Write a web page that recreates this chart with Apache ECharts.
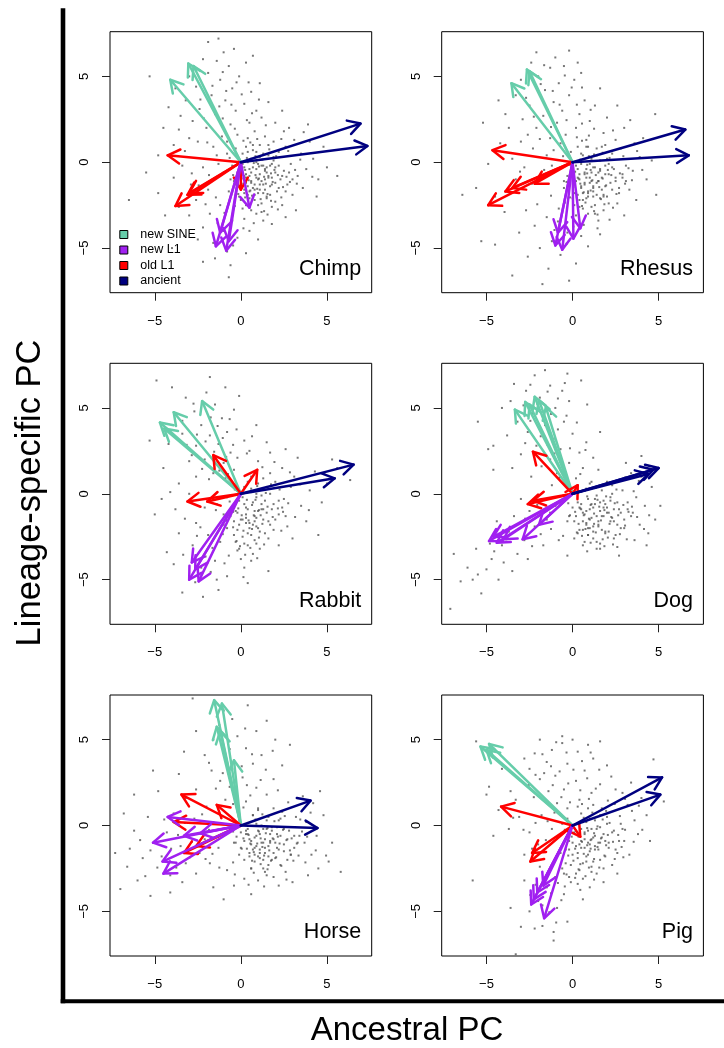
<!DOCTYPE html>
<html><head><meta charset="utf-8">
<script src="https://cdn.jsdelivr.net/npm/echarts@6/dist/echarts.min.js"></script>
<style>html,body{margin:0;padding:0;background:#fff}#c{width:724px;height:1048px}</style>
</head><body><div id="c"></div>
<script>
// ---------- data ----------
const panelNames = ['Chimp', 'Rhesus', 'Rabbit', 'Dog', 'Horse', 'Pig'];
const categories = ['new SINE', 'new L1', 'old L1', 'ancient'];
const tickValues = [-5, 0, 5];
const xAxisTitle = 'Ancestral PC';
const yAxisTitle = 'Lineage-specific PC';

// arrow tips (ancestral PC, lineage-specific PC); every arrow starts at (0,0)
const chimpSine = [[-4.1, 4.8], [-3.05, 5.75], [-2.75, 5.6]];
const chimpNewL1 = [[-1.45, -4.9], [-0.85, -5.15], [-1.2, -4.1], [-0.7, -4.6], [0.5, -2.65]];
const chimpOldL1 = [[-4.25, 0.4], [-3.8, -2.55], [-3.1, -1.9], [-3.0, -1.8], [0.0, -1.6]];
const chimpAncient = [[6.95, 2.25], [7.35, 0.95]];

const rhesusSine = [[-3.55, 4.6], [-2.65, 5.4], [-2.5, 5.3]];
const rhesusNewL1 = [[-1.0, -4.85], [-0.6, -5.1], [-0.85, -4.1], [0.05, -4.45], [0.45, -3.85]];
const rhesusOldL1 = [[-4.65, 0.7], [-4.9, -2.5], [-3.9, -1.7], [-3.5, -1.5], [-2.2, -1.25]];
const rhesusAncient = [[6.55, 1.9], [6.75, 0.4]];

const rabbitSine = [[-4.7, 4.15], [-4.45, 3.8], [-3.9, 4.75], [-2.25, 5.4]];
const rabbitNewL1 = [[-3.0, -5.0], [-2.85, -4.0], [-2.45, -5.1], [-2.65, -4.4]];
const rabbitOldL1 = [[-3.1, -0.45], [-1.95, -0.45], [-1.6, 2.25], [0.95, 1.4]];
const rabbitAncient = [[6.55, 1.7], [5.45, 0.9]];

const dogSine = [[-3.35, 4.9], [-2.75, 5.35], [-2.2, 5.65], [-1.95, 5.45], [-1.55, 5.05], [-2.5, 5.2]];
const dogNewL1 = [[-4.85, -2.75], [-4.4, -2.85], [-4.0, -2.65], [-2.9, -2.65], [-1.95, -1.8], [-4.6, -2.5]];
const dogOldL1 = [[-2.3, 2.45], [-2.6, -0.6], [-2.3, -0.4], [0.3, 0.5]];
const dogAncient = [[5.0, 1.5], [4.7, 1.4], [4.4, 1.15]];

const horseSine = [[-1.55, 7.3], [-1.1, 7.1], [-1.4, 5.75], [-1.2, 5.5], [-0.4, 3.8]];
const horseNewL1 = [[-4.25, 0.5], [-5.1, -1.0], [-4.5, -2.8], [-4.55, -2.1], [-2.35, -0.45], [-3.3, -0.6]];
const horseOldL1 = [[-3.45, 1.8], [-1.4, 1.2], [-3.9, 0.2], [-3.3, -1.6], [-2.6, -1.2]];
const horseAncient = [[4.05, 1.45], [4.45, -0.15]];

const pigSine = [[-5.35, 4.6], [-4.85, 4.75], [-5.0, 4.4]];
const pigNewL1 = [[-2.4, -4.6], [-1.65, -5.4], [-2.05, -3.9], [-2.25, -4.3], [-1.7, -3.5]];
const pigOldL1 = [[-4.15, 1.1], [-2.45, -2.1], [-2.35, -1.6], [0.45, -0.65]];
const pigAncient = [[5.2, 2.8], [5.1, 1.8]];

// background point clouds, flat x,y lists
const chimpPts = [
0.2,-0.3,0.5,-0.8,0.9,-0.4,1.2,-1.1,0.7,-1.5,1.5,-0.6,0.3,-1.2,1.8,-0.9,0.6,0.2,1.1,0.3,-0.2,-0.6,0.4,-1.9,1.4,-1.6,2.0,-0.3,0.8,-2.2,1.7,-1.4,0.1,0.5,0.9,-0.9,1.3,-0.2,0.5,-0.4,2.3,-1.0,1.0,-1.8,-0.4,-1.1,0.2,-1.6,1.6,0.4,2.1,-1.7,0.7,0.7,1.9,0.1,0.3,0.9,-0.1,0.2,1.2,-2.4,2.5,-0.5,0.6,-2.8,1.5,-2.1,-0.5,-0.2,0.0,-2.2,2.7,-1.3,1.1,1.0,0.4,1.4,-0.3,0.8,2.2,0.6,1.8,-2.6,0.9,-3.0,-0.7,-1.7,2.9,-0.1,1.4,1.5,0.2,-3.3,3.0,-1.9,-0.8,0.5,0.8,1.8,1.3,-3.4,2.4,-2.5,-0.2,1.6,3.3,-0.8,0.5,2.3,1.9,1.2,-1.0,-0.6,0.1,-2.7,2.6,0.9,1.6,-0.9,0.6,-1.1,1.0,-0.1,0.3,-0.7,1.4,-0.4,0.8,-1.3,1.7,-0.2,0.4,0.0,1.1,-0.7,2.0,-1.2,0.9,0.6,-0.1,-1.4,1.3,-1.3,
-0.6,2.2,-1.1,1.5,-0.3,3.0,-1.5,2.8,-0.9,3.6,0.2,3.4,-2.0,2.0,-1.7,3.9,-0.5,4.3,-2.4,3.1,-1.2,4.8,0.6,4.1,-2.8,2.4,-0.1,5.0,-1.9,5.2,-3.2,3.6,-1.4,5.9,0.9,3.0,-2.6,4.4,-0.7,5.6,1.2,2.6,-3.5,2.7,0.3,5.8,-2.2,6.0,-1.0,6.4,-3.0,5.0,1.6,3.5,2.0,2.3,-0.4,6.6,-1.9,7.0,0.7,6.2,2.4,3.0,-3.8,4.3,-1.3,7.2,1.1,4.6,-4.2,3.2,-2.5,1.2,-1.6,0.9,-3.0,1.4,-3.9,1.0,-2.2,-0.3,-3.4,-0.2,-1.3,-0.1,-4.5,2.0,-5.3,5.0,-4.8,0.4,
3.5,0.5,3.8,-0.4,4.2,0.2,3.1,1.3,4.5,-1.0,3.6,-1.5,2.8,2.0,4.0,1.2,5.0,-0.3,5.6,-0.8,3.2,-2.8,4.4,-2.0,2.5,1.8,4.8,0.9,3.9,2.2,
-1.2,-2.5,-0.5,-3.4,-1.8,-3.0,-2.6,-2.2,-1.0,-4.0,-2.2,-3.8,-3.0,-3.1,-0.2,-4.4,-1.6,-4.7,-3.6,-2.6,-2.5,-4.5,-0.8,-5.2,-1.5,-5.6,-3.3,-4.3,-4.4,-3.1,0.5,-4.0,1.0,-4.5,-0.6,-6.0,-0.7,-6.7,-2.2,-5.8,1.8,-3.6,2.6,-3.2,0.3,-5.3,-4.0,-5.0,-6.5,-2.2,-4.8,-1.8,-3.9,-0.9,-5.5,-0.6,-2.9,-1.3,-1.9,-1.6,
0.15,-0.95,0.55,-1.65,1.05,-0.25,1.35,-0.85,0.75,-0.05,1.85,-1.15,0.25,-0.45,1.55,-1.85,0.95,-1.55,2.15,-0.75,0.45,-2.45,1.25,0.15,0.05,-1.25,1.65,0.75,2.45,-1.45,0.85,0.35,1.95,-0.45,0.35,0.25,1.15,-2.15,-0.25,-0.15,2.65,-0.85,0.65,-1.95,1.45,-1.25,-0.45,-0.75,0.95,1.35,2.05,0.35,0.25,-2.05,1.75,-2.25,2.85,-1.15,0.55,1.15,-0.65,0.25,1.35,-2.85,3.15,-0.45,0.15,1.25,-0.15,-1.85,2.35,-2.05,1.05,-0.95,0.45,-1.05,1.75,-0.65,0.85,-0.75,
-0.8,1.2,-1.4,0.4,-0.35,1.95,0.35,2.45,-1.05,2.55,-0.55,3.35,0.65,2.85,-1.95,1.15,-1.25,3.25,0.05,3.95,-2.15,2.55,-0.85,4.15,1.45,2.15,-1.65,4.45,0.45,4.65,-2.35,3.65,2.35,1.35,-0.25,4.65,-1.05,5.25,1.05,3.65,2.75,0.65,3.25,-1.25,3.45,0.15,-1.85,-0.75,-2.45,-1.35,-1.45,-2.05,-0.95,-2.95,-0.35,-2.55,0.15,-3.85,0.75,-3.55,-2.05,-2.45,-1.35,-3.55,-0.45,-4.85,-2.85,-0.65,-3.25,0.65,1.55,-3.05,2.15,-2.75,3.65,1.75,4.15,-0.85,-2.75,5.45,-3.6,1.9,
0.1,-0.1,0.6,-0.6,1.0,-1.0,1.4,-0.5,0.4,-1.4,1.8,-1.3,0.8,-1.9,1.2,-0.2,0.3,-0.9,1.6,-0.8,2.0,-0.6,0.7,-0.3,1.1,-1.6,0.2,-1.8,1.5,-2.0,2.2,-1.5,0.5,-2.1,0.9,0.0,1.3,0.5,0.0,-0.5,2.4,-0.8,1.7,-1.9,0.6,-1.2,1.0,-2.5,-0.3,-1.3,2.6,-1.7,1.9,0.3,0.4,0.6,-0.1,-2.0,1.2,-2.9,2.8,-0.6,0.7,1.0,1.6,1.0,-0.6,-1.0,2.0,-2.3,0.3,-2.5,3.0,-1.0,1.4,-1.0,0.5,-1.7,1.1,-1.3,1.8,-0.1,0.8,-1.6,1.5,-0.3,0.2,-0.8,2.2,-0.2,1.3,-1.8
];
const rhesusPts = [
0.3,-0.4,0.8,-0.9,1.2,-0.3,0.5,-1.4,1.5,-1.1,0.9,-1.8,1.9,-0.7,0.2,-1.1,1.1,0.2,0.6,0.4,1.7,-1.6,2.2,-1.2,0.4,-2.2,1.3,-2.5,0.0,-0.2,1.0,-1.2,2.4,-0.4,0.7,-0.6,1.6,0.1,2.0,-2.0,-0.3,-0.8,0.9,-3.0,1.8,-2.8,0.1,-1.8,2.7,-1.5,1.4,0.8,0.3,0.9,2.9,-0.9,0.6,-2.7,1.2,-1.5,-0.1,0.6,2.3,0.5,1.5,-3.4,0.2,-3.1,2.6,-2.4,-0.5,-1.5,0.8,1.3,1.9,1.0,3.1,-0.2,0.5,-0.1,1.1,-0.6,1.6,-0.5,0.8,-2.1,1.4,-1.2,2.1,-0.1,0.4,-0.7,1.0,-0.9,0.7,-1.2,1.8,-1.9,1.2,-2.0,0.1,-2.5,2.5,-1.1,3.3,-1.6,0.9,0.9,-0.6,-0.3,
-0.4,1.6,-0.9,2.3,0.2,2.0,-1.3,1.4,-0.6,3.0,-1.7,2.7,0.4,2.8,-1.1,3.5,-2.1,2.0,-0.2,3.9,-1.6,4.2,-2.5,3.3,0.7,3.6,-0.8,4.6,-2.0,5.0,1.0,2.4,-2.9,2.5,-1.3,5.5,0.1,4.8,-2.4,5.8,-0.5,5.6,1.3,3.3,-3.3,3.9,-2.1,6.4,0.5,5.2,-1.0,6.1,1.6,4.3,-3.0,4.8,2.0,2.6,-3.7,2.0,2.6,3.3,1.8,1.7,3.0,2.0,4.8,2.8,3.6,1.1,2.5,1.3,-0.2,6.5,0.3,5.8,
-1.5,0.4,-2.3,0.8,-2.8,-0.3,-1.9,-0.9,-3.5,0.2,-4.2,1.1,-3.3,-1.0,-4.9,-0.1,-5.6,-1.5,-6.4,-1.9,-4.5,-2.0,-3.9,2.8,-1.2,-0.2,-2.6,1.6,-5.2,2.3,
3.5,-0.5,3.9,0.3,4.3,-1.0,3.7,-2.2,4.86,-1.9,4.1,1.4,3.0,-3.1,2.8,0.8,4.6,0.1,
-0.8,-2.7,-1.5,-3.2,-0.3,-4.1,-1.2,-4.6,-2.2,-3.7,0.5,-4.3,-0.7,-5.4,-1.9,-5.0,-2.7,-2.8,0.2,-5.9,-1.4,-6.2,-3.5,-6.6,-1.75,-7.1,-4.5,-4.8,-5.3,-4.6,-3.1,-4.1,0.9,-4.9,1.6,-4.2,-0.2,-6.9,-2.6,-5.5,
0.35,-0.95,0.65,-1.75,1.05,-0.45,1.35,-0.75,0.85,-0.15,1.95,-1.35,0.15,-0.55,1.65,-2.15,1.05,-1.65,2.25,-0.75,0.55,-2.55,1.25,0.45,0.05,-1.45,1.75,0.55,2.55,-1.85,0.95,0.35,2.05,-0.45,0.45,0.15,1.25,-2.85,-0.15,-0.15,2.75,-0.65,0.75,-2.35,1.55,-1.45,-0.35,-1.15,0.95,1.55,2.15,0.25,0.25,-2.05,1.85,-2.45,3.05,-1.25,0.55,1.25,-0.55,0.35,1.45,-3.05,3.25,-0.35,0.25,1.45,-0.15,-2.05,2.35,-2.65,1.15,-1.05,0.45,-1.25,1.75,-0.95,0.85,-0.65,
-0.7,1.1,-1.1,0.7,-0.35,2.45,0.55,2.25,-1.25,2.05,-0.75,3.35,0.25,3.35,-1.9,1.35,-1.45,3.05,-0.05,4.35,-2.25,2.65,-1.15,4.15,1.25,1.95,-1.85,4.55,0.55,4.35,-2.7,3.75,2.35,1.85,-0.45,5.05,-1.65,5.65,1.05,3.05,2.95,0.35,3.45,-1.05,3.75,0.65,-1.65,-0.45,-2.35,-1.25,-1.25,-1.95,-0.85,-3.45,-0.45,-2.35,0.05,-3.75,0.65,-3.65,-2.05,-2.45,-1.05,-3.95,-0.35,-4.75,-3.05,-0.55,-3.0,1.2,1.45,-3.85,2.15,-3.35,3.35,2.45,4.05,-0.45,-3.95,-2.9,-4.3,3.6,
0.2,-0.2,0.7,-0.7,1.1,-1.1,1.5,-0.6,0.5,-1.5,1.9,-1.4,0.9,-2.0,1.3,-0.3,0.4,-1.0,1.7,-0.9,2.1,-0.7,0.8,-0.4,1.2,-1.7,0.3,-1.9,1.6,-2.1,2.3,-1.6,0.6,-2.2,1.0,-0.1,1.4,0.4,0.1,-0.6,2.5,-0.9,1.8,-2.0,0.7,-1.3,1.1,-2.6,-0.2,-1.4,2.7,-1.8,2.0,0.2,0.5,0.5,0.0,-2.1,1.3,-3.0,2.9,-0.7,0.8,0.9,1.7,0.9,-0.5,-1.1,2.1,-2.4,0.4,-2.6,3.1,-1.1,1.5,-1.1,0.6,-1.8,1.2,-1.4,1.9,-0.2,0.9,-1.7,1.6,-0.4,0.3,-0.9,2.3,-0.3,1.4,-1.9
];
const rabbitPts = [
-0.3,-0.6,0.3,-1.2,0.7,-0.5,-0.1,-1.8,0.9,-1.4,0.4,-2.3,1.3,-0.9,-0.6,-1.3,0.1,-0.2,1.0,-2.0,0.6,0.3,-0.4,-2.4,1.6,-1.6,0.2,-2.9,-0.8,-0.2,1.2,-0.1,-0.2,-3.3,0.8,-2.7,1.9,-0.6,-1.0,-1.8,0.5,-1.7,1.5,0.4,-0.5,0.5,2.2,-1.2,-1.2,-2.8,0.0,-3.8,1.1,-3.2,2.0,0.7,-0.9,0.9,2.5,-0.3,0.3,-0.8,-0.2,-1.1,0.8,-1.0,0.1,-1.5,1.4,-2.3,-0.7,-3.6,2.7,-1.9,0.6,1.0,-1.4,-0.6,1.7,1.2,-0.4,1.4,2.9,0.4,0.2,-4.3,-1.5,-3.9,0.9,0.0,
-1.0,1.8,-1.6,1.2,-0.6,2.4,-2.1,2.0,-1.3,2.9,-0.2,2.1,-2.6,2.8,-1.8,3.4,-0.8,3.6,-3.0,1.9,-2.3,4.0,-1.1,4.4,0.2,3.1,-3.4,3.5,-2.7,4.8,-1.5,5.2,-0.4,4.9,-3.8,4.6,0.5,2.5,-2.0,5.9,-4.2,2.9,-3.2,5.6,-0.9,6.2,-4.9,6.6,-1.8,6.8,-2.6,1.0,-4.5,1.5,-3.6,0.6,1.0,1.9,1.5,3.0,0.9,4.0,-4.0,6.2,-0.1,5.7,1.7,2.4,-5.3,3.1,
2.4,1.5,3.1,1.0,3.5,-0.7,4.0,0.2,3.3,2.1,4.3,1.3,5.0,0.6,5.6,1.5,6.35,0.8,4.5,-2.4,3.8,-1.6,2.6,2.6,4.7,-0.5,3.0,-2.6,2.2,-3.0,5.3,2.0,
-2.1,-0.8,-3.0,0.0,-2.6,-1.7,-3.8,-0.9,-4.6,-0.3,-1.9,-2.4,-2.8,-3.0,-3.6,-2.3,-4.3,-3.4,-2.3,-4.3,-3.0,-4.8,-1.4,-5.0,-3.4,-5.75,-2.2,-6.0,-0.8,-4.8,0.6,-3.9,1.6,-4.5,-5.0,-1.2,-1.3,-5.6,-3.9,-4.1,0.4,-5.2,
-0.15,-0.85,0.45,-1.55,0.85,-0.35,0.15,-2.15,1.15,-1.25,0.65,-2.05,1.55,-0.75,-0.45,-1.05,0.35,-0.35,1.25,-1.75,0.95,0.45,-0.25,-2.75,1.85,-1.35,0.55,-3.15,-0.65,-0.45,1.45,0.05,-0.05,-3.05,1.05,-2.55,2.15,-0.85,-0.85,-1.55,0.75,-1.25,1.75,0.55,-0.35,0.25,2.45,-1.05,-1.05,-2.35,0.25,-3.55,1.35,-2.95,2.25,0.25,-0.75,1.15,2.75,-0.55,0.05,-1.25,0.65,-0.65,1.05,-0.95,-0.45,-1.95,
-1.25,1.35,-1.85,0.85,-0.85,2.15,-1.55,2.45,-0.45,2.85,-2.25,1.45,-1.05,3.25,-2.05,3.05,-0.25,3.75,-2.85,2.25,-1.35,3.95,-2.55,3.45,0.35,2.35,-1.75,4.45,-0.65,4.35,-3.15,2.85,1.25,1.55,0.65,3.35,1.95,1.85,2.85,1.25,3.45,0.55,2.35,-2.15,3.15,-1.35,-1.45,-0.95,-2.35,-1.95,-1.65,-3.15,-2.05,-3.65,-0.95,-4.05,-2.55,-2.45,-3.25,-1.45,0.15,-4.85,-1.75,-4.55,-2.65,-5.15,-3.35,-3.55,0.95,-3.75,3.95,-0.95,4.85,1.15,-4.1,0.1,-3.4,4.25,-2.75,5.25,
-0.1,-0.4,0.4,-0.9,0.8,-1.3,1.2,-0.6,0.0,-1.5,1.5,-1.1,0.5,-2.0,0.9,-0.2,-0.4,-1.6,1.3,-1.5,1.8,-0.9,0.2,-0.6,0.7,-1.8,-0.2,-2.1,1.1,-2.2,2.0,-1.5,0.1,-2.5,0.6,0.1,1.0,0.6,-0.6,-0.9,2.2,-0.4,0.9,-2.9,0.3,-1.4,0.4,-3.0,-0.8,-2.0,1.6,-2.6,1.7,0.0,0.2,0.4,-0.3,-2.8,0.7,-3.5,2.4,-0.8,0.4,0.7,1.3,0.9,-1.0,-1.2,1.9,-2.1,-0.1,-3.2,2.6,-1.3,1.0,-1.0,0.3,-1.7,0.8,-1.6,1.4,-0.4,0.6,-2.4,1.2,-0.9,-0.3,-1.0,1.7,-1.8,0.9,-1.9
];
const dogPts = [
0.3,-0.5,0.8,-1.0,1.3,-0.6,0.6,-1.6,1.7,-1.3,1.0,-2.0,2.0,-0.8,0.2,-1.3,1.4,-0.1,2.4,-1.6,0.9,-0.3,1.9,-2.2,0.4,-2.1,2.7,-0.9,1.2,-2.6,2.2,-0.2,0.0,-0.8,3.0,-1.5,0.7,0.2,1.6,-2.9,2.5,-2.4,3.2,-0.5,1.1,-1.4,1.5,-1.8,0.5,-0.9,2.1,-1.1,1.8,-0.4,0.9,-2.4,2.8,-2.0,3.5,-1.1,-0.3,-1.6,0.1,-2.6,3.7,-0.2,2.3,0.5,1.0,0.6,1.4,-3.2,2.9,0.2,3.9,-1.8,0.6,-3.0,-0.5,-0.4,2.6,-3.1,1.2,-0.8,1.6,-1.0,0.8,-1.8,2.3,-1.4,
4.2,-0.7,4.6,0.4,4.0,1.0,5.1,-0.7,4.4,-2.3,3.4,1.2,4.0,2.2,3.6,-2.7,4.8,-1.5,3.1,1.8,2.7,-3.6,4.3,-3.0,
0.2,0.9,-0.4,0.6,-0.9,1.2,-0.2,1.8,0.6,1.5,-1.3,2.0,-0.7,2.6,0.4,2.4,-1.8,1.6,-1.1,3.2,-2.1,2.8,0.0,3.5,-1.6,4.0,-2.6,3.6,-0.5,4.2,0.8,3.0,-2.3,4.7,-3.0,2.3,-1.0,5.0,-3.2,4.2,-1.9,5.6,-0.2,5.4,-2.7,6.0,-3.6,5.4,-1.3,6.3,0.5,6.6,-2.2,6.9,-3.4,6.4,-4.1,5.0,-1.6,7.2,-0.6,6.0,-3.8,3.4,-4.6,2.8,1.2,2.1,1.6,3.6,0.85,5.2,-0.3,7.0,1.5,1.4,-2.4,1.0,-3.5,1.5,-1.2,0.5,-5.5,4.2,-4.9,2.6,-4.6,1.4,
-1.0,-0.7,-1.8,-0.3,-2.5,-1.0,-1.5,-1.5,-3.0,-0.3,-2.2,-1.9,-3.4,-1.3,-2.8,-2.7,-3.7,-2.2,-4.4,-1.6,-3.2,-3.5,-4.1,-3.0,-4.7,-3.8,-3.5,-4.5,-5.0,-4.4,-5.6,-3.2,-4.3,-5.0,-5.8,-5.0,-6.1,-4.3,-5.3,-5.8,-6.5,-5.1,-7.1,-6.7,-6.9,-3.5,-4.0,-4.0,-5.5,-4.7,-2.6,-3.8,-4.8,-2.9,-0.8,-2.7,-1.7,-3.0,-0.3,-3.6,
0.45,-0.85,0.95,-1.45,1.45,-0.35,0.75,-2.05,1.85,-0.95,1.25,-1.75,2.25,-1.35,0.35,-1.75,1.55,-0.75,2.65,-1.25,1.05,-0.65,2.05,-2.55,0.55,-2.45,2.95,-0.65,1.35,-2.25,2.45,-0.55,0.15,-1.05,3.25,-1.05,0.85,-0.15,1.75,-2.65,2.75,-2.35,3.45,-0.75,1.25,-1.15,1.65,-1.55,0.65,-1.25,2.15,-1.75,1.95,-0.15,1.05,-2.85,3.05,-1.85,3.75,-1.35,-0.15,-1.25,0.25,-2.25,3.55,0.15,2.55,0.25,1.35,0.35,1.85,-3.05,3.15,-2.65,0.85,-3.35,-0.25,-0.55,2.35,-2.95,
-0.55,1.55,-1.05,2.35,-0.15,2.65,-1.45,2.85,-0.85,3.75,-1.85,3.35,-0.35,4.55,-2.45,4.25,-1.25,4.65,-2.05,5.25,0.25,4.15,-2.85,5.15,-0.85,5.55,0.45,1.15,-0.75,0.95,0.75,2.55,-2.75,2.95,-1.45,5.95,-0.45,6.45,-2.45,6.35,
-1.3,-1.1,-2.05,-0.65,-2.75,-1.45,-1.85,-2.35,-3.15,-2.05,-2.35,-3.05,-3.85,-2.65,-4.55,-3.35,-1.25,-2.05,-0.55,-2.45,
4.45,-1.25,3.85,0.75,4.15,-2.05,3.05,0.95,
0.5,-0.6,1.0,-0.9,1.4,-1.3,1.8,-0.8,0.8,-1.7,2.2,-1.6,1.2,-2.2,1.6,-0.5,0.7,-1.2,2.0,-1.1,2.4,-0.9,1.1,-0.6,1.5,-1.9,0.6,-2.1,1.9,-2.3,2.6,-1.8,0.9,-2.4,1.3,-0.3,1.7,0.2,0.4,-0.8,2.8,-1.1,2.1,-2.2,1.0,-1.5,1.4,-2.8,0.1,-1.6,3.0,-2.0,2.3,0.0,0.8,0.3,0.3,-2.3,1.6,-3.2,3.2,-0.9,1.1,0.7,2.0,0.7,-0.2,-1.3,2.4,-2.6,0.7,-2.8,3.4,-1.3,1.8,-1.3,0.9,-2.0,1.5,-1.6,2.2,-0.4,1.2,-1.9,1.9,-0.6,0.6,-1.1,2.6,-0.5,1.7,-2.1
];
const horsePts = [
0.3,-0.3,0.8,-0.7,1.3,-0.2,0.6,-1.1,1.7,-0.9,1.1,-1.4,2.1,-0.5,0.2,-0.9,1.5,0.3,2.5,-1.1,0.9,0.1,1.9,-1.6,0.5,-1.6,2.8,-0.3,1.3,-2.0,2.3,0.4,0.0,-0.4,3.1,-1.3,0.7,0.6,1.6,-2.3,2.7,-2.0,3.4,-0.6,1.2,-1.0,1.6,-1.2,0.4,-0.5,2.0,-1.0,1.8,-0.1,1.0,-1.8,2.9,-1.7,3.7,-1.0,-0.4,-1.0,-0.1,-1.7,3.8,0.2,2.4,0.8,1.0,0.9,1.4,-2.7,3.2,0.5,4.1,-1.7,0.6,-2.5,-0.6,-0.2,2.6,-2.7,1.1,-0.5,1.4,-0.8,0.8,-1.3,2.2,-1.4,
4.4,-0.6,4.8,0.6,4.2,1.3,5.1,-2.1,5.8,-2.7,3.6,1.7,4.5,-2.5,3.9,-2.9,5.3,-1.0,3.0,-3.3,2.2,-3.5,4.6,2.0,
0.3,1.4,-0.3,1.9,0.9,2.2,-0.9,1.5,0.1,2.8,1.5,1.8,-1.2,2.6,-0.5,3.3,0.7,3.6,1.9,2.7,-1.7,3.2,-0.9,4.0,0.3,4.5,1.2,4.1,-2.1,4.1,2.4,3.5,-0.2,5.2,-1.6,5.0,0.9,5.5,2.85,4.7,1.5,6.1,-2.8,7.4,-0.5,6.2,-2.6,5.5,-3.3,4.3,2.0,5.0,-1.0,6.7,0.4,7.0,-3.6,3.0,-2.6,2.1,
-1.0,-0.5,-1.6,0.2,-2.1,-0.8,-1.3,-1.3,-2.7,0.4,-3.0,-0.6,-2.4,-1.6,-3.5,-1.2,-3.9,0.7,-4.3,-0.4,-3.2,-2.2,-4.6,-1.8,-4.1,-2.9,-5.0,-0.9,-5.4,0.5,-5.7,-1.9,-6.2,-0.3,-6.6,-2.4,-7.3,-1.6,-7.0,-3.7,-6.0,-3.2,-5.25,-4.1,-4.1,-3.9,-3.4,-3.3,-2.6,-2.8,-1.8,-2.2,-4.8,2.0,-6.2,1.8,-5.1,3.2,-3.2,1.6,-2.0,1.1,-0.8,-2.6,-1.6,-3.6,-6.8,0.7,
0.2,-3.1,-0.4,-3.5,1.0,-3.2,0.6,-4.0,-1.0,-4.3,1.9,-3.0,
0.45,-0.55,0.95,-1.05,1.45,-0.45,0.75,-1.55,1.85,-0.75,1.25,-1.25,2.25,-1.05,0.35,-1.35,1.55,-0.15,2.65,-0.85,1.05,-0.35,2.05,-1.85,0.65,-2.05,2.95,-0.75,1.35,-1.75,2.45,-0.25,0.15,-0.75,3.25,-1.05,0.85,0.35,1.75,-2.05,2.85,-1.45,3.55,-0.35,1.15,-0.75,1.65,-1.45,0.55,-1.05,2.15,-0.65,1.95,0.25,1.15,-2.25,3.05,-2.05,3.85,-0.65,-0.25,-0.65,0.05,-1.35,3.45,0.35,2.55,0.55,1.25,0.65,1.55,-2.55,3.35,-1.75,0.75,-2.75,-0.45,-0.35,2.35,-2.35,
0.15,1.05,-0.45,1.25,0.55,1.75,-0.65,2.25,0.35,2.35,1.15,2.65,-1.05,3.05,0.05,3.45,1.45,3.25,-1.45,2.15,0.65,4.15,-0.65,4.45,2.15,2.05,-1.85,3.65,0.25,5.65,-1.25,5.85,1.85,4.35,
-0.85,-0.15,-1.35,-0.65,-1.85,-0.25,-2.35,-1.15,-1.65,-1.65,-2.85,-0.95,-3.25,0.15,-2.05,-1.95,-3.65,-0.55,-2.95,-1.85,-4.05,-1.35,-3.75,-2.45,-4.85,-2.45,-5.25,-1.45,-4.45,0.35,-2.25,0.65,-1.15,0.45,-1.25,-2.45,-5.85,-0.85,-6.45,-1.35,-5.55,-2.95,-0.45,-2.15,
4.05,0.75,4.35,-1.45,4.95,-1.75,3.75,-2.15,2.75,1.35,0.45,-3.45,1.35,-3.55,-0.35,-2.85,2.65,-3.15,
0.4,-0.2,0.9,-0.6,1.3,-1.0,1.7,-0.5,0.7,-1.4,2.1,-1.3,1.1,-1.9,1.5,-0.2,0.6,-0.9,1.9,-0.8,2.3,-0.6,1.0,-0.3,1.4,-1.6,0.5,-1.8,1.8,-2.0,2.5,-1.5,0.8,-2.1,1.2,0.0,1.6,0.5,0.3,-0.5,2.7,-0.8,2.0,-1.9,0.9,-1.2,1.3,-2.5,0.0,-1.3,2.9,-1.7,2.2,0.3,0.7,0.6,0.2,-2.0,1.5,-2.9,3.1,-0.6,1.0,1.0,1.9,1.0,-0.3,-1.0,2.3,-2.3,0.6,-2.5,3.3,-1.0,1.7,-1.0,0.8,-1.7,1.4,-1.3,2.1,-0.1,1.1,-1.6,1.8,-0.3,0.5,-0.8,2.5,-0.2,1.6,-1.8
];
const pigPts = [
0.2,-0.3,0.7,-0.8,1.1,-0.2,0.5,-1.3,1.5,-1.0,0.9,-1.7,1.8,-0.5,0.0,-1.0,1.3,0.3,2.1,-1.3,0.6,0.2,1.6,-2.0,0.3,-1.9,2.4,-0.3,1.1,-2.4,2.0,0.5,-0.2,-0.5,2.6,-1.6,0.5,0.7,1.4,-2.8,2.3,-2.3,2.8,0.1,1.0,-1.1,1.3,-1.4,0.4,-0.6,1.9,-0.9,1.6,-0.1,0.8,-2.1,-0.4,-1.4,-0.1,-2.3,0.9,1.0,0.2,-2.8,3.0,-0.9,-0.6,0.1,1.7,1.0,0.7,-0.4,1.2,-0.7,
-0.3,1.0,0.4,1.5,-0.9,1.3,1.1,1.9,-0.5,2.1,0.2,2.6,-1.4,2.0,1.6,2.4,-1.0,2.9,0.7,3.2,-1.9,2.7,-0.3,3.6,1.2,3.9,-1.5,3.7,0.3,4.3,-2.5,3.3,-0.6,4.8,-2.2,4.2,0.9,4.7,-0.6,5.2,-1.2,4.4,2.0,3.5,-3.0,2.6,-2.8,3.9,2.5,2.1,-1.9,5.0,0.0,5.0,1.6,4.9,-3.6,2.0,-4.85,2.26,-5.6,4.9,-4.1,3.3,
3.2,1.2,3.6,0.3,4.0,1.6,3.4,2.5,4.7,3.85,4.3,0.6,5.3,1.4,3.8,-0.5,2.9,1.9,3.3,-1.7,4.5,-0.9,2.6,-2.8,
-1.2,-0.2,-1.8,0.6,-2.5,-0.4,-3.1,0.5,-3.7,-0.2,-4.3,0.9,-2.0,-1.1,-3.3,1.5,-4.6,-0.6,-2.8,-1.7,-5.0,1.8,-5.8,-3.2,
-0.6,-2.5,-1.0,-3.0,0.3,-3.4,-1.5,-3.6,-0.5,-4.0,-2.0,-4.4,-0.9,-4.8,0.6,-4.3,-1.6,-5.3,-2.5,-5.0,-0.3,-5.6,-1.1,-6.2,-2.2,-6.0,-3.3,-7.5,-1.1,-6.7,-2.8,-3.2,-3.6,-4.8,-1.9,-2.4,1.0,-3.6,1.8,-3.3,-0.2,-3.0,-3.0,-5.9,
0.35,-0.65,0.85,-1.15,1.25,-0.45,0.65,-1.65,1.65,-0.75,1.05,-1.35,1.95,-1.15,0.15,-1.35,1.45,-0.05,2.35,-0.95,0.85,-0.15,1.85,-1.75,0.45,-2.25,2.65,-0.55,1.25,-1.95,2.15,0.15,-0.05,-0.65,2.85,-1.25,0.65,0.45,1.55,-2.45,2.45,-1.95,3.05,-0.25,1.05,-0.85,1.45,-1.25,0.55,-0.95,2.05,-0.55,1.75,0.35,0.95,-2.45,-0.25,-1.75,0.05,-2.05,1.15,0.75,0.35,-2.55,2.75,0.55,-0.45,-0.25,1.95,0.85,
-0.15,1.35,0.55,1.25,-0.65,1.65,0.95,1.55,-0.25,2.45,0.45,2.05,-1.15,2.35,1.35,2.15,-0.75,3.15,0.85,2.75,-1.65,3.05,0.05,3.25,1.55,3.25,-1.25,3.45,0.55,3.75,-2.15,2.95,-0.35,4.25,-1.75,4.15,1.05,4.25,-0.95,4.85,2.25,2.85,-2.55,2.35,2.05,1.45,-1.05,0.75,-2.25,1.65,
3.05,1.55,3.45,0.85,3.85,1.15,2.45,1.25,3.55,-0.95,4.05,-0.25,2.95,-1.85,-1.45,0.25,-2.15,0.15,-2.85,-0.25,-1.55,-0.85,-3.45,0.45,-2.35,-1.35,
-0.35,-2.85,-0.85,-3.35,0.15,-3.05,-1.25,-3.95,-0.45,-3.55,-1.75,-4.65,-0.65,-4.35,0.45,-3.75,-1.35,-5.05,-2.15,-3.45,0.75,-2.95,-0.95,-5.65,-1.75,-5.85,-2.45,-4.05,1.25,-3.15,
0.1,-0.4,0.5,-0.9,0.9,-0.3,1.3,-1.2,0.3,-1.6,1.7,-0.7,0.6,-2.2,1.0,-1.5,-0.2,-0.9,1.4,-0.2,2.1,-1.0,0.8,0.2,0.0,-1.7,0.4,-2.6,1.2,-2.1,1.9,-1.8,-0.4,-2.2,0.7,-0.5,1.6,0.6,-0.3,0.4,2.3,-0.4,1.1,-2.7,0.2,-1.2,0.6,-3.1,-0.7,-1.6,2.5,-1.4,1.5,-1.4,0.9,-1.0,-0.5,-2.8,1.0,0.4,2.7,-0.9,0.3,1.1,1.2,1.2,-0.9,-0.7,1.8,-2.5,-0.1,-3.3,2.9,-0.2,1.1,-0.8,0.4,-1.1,0.8,-1.8,1.6,-1.0,0.5,-0.2,2.0,0.1,-0.2,-1.4,1.3,-0.6,0.7,-1.3
];

// ---------- presentation ----------
const colors = {'new SINE': '#66CDAA', 'new L1': '#A020F0', 'old L1': '#FF0000', 'ancient': '#000080'};
const drawOrder = ['new SINE', 'old L1', 'new L1', 'ancient'];
const FONT = '"Liberation Sans", Arial, Helvetica, sans-serif';
const COL_LEFT = [110, 441.7], ROW_TOP = [31.7, 363.3, 695], GW = 261.7, GH = 261;
const AX_MIN = -7.6, AX_MAX = 7.6;

const panels = [
  {pts: chimpPts, arrows: {'new SINE': chimpSine, 'new L1': chimpNewL1, 'old L1': chimpOldL1, 'ancient': chimpAncient}},
  {pts: rhesusPts, arrows: {'new SINE': rhesusSine, 'new L1': rhesusNewL1, 'old L1': rhesusOldL1, 'ancient': rhesusAncient}},
  {pts: rabbitPts, arrows: {'new SINE': rabbitSine, 'new L1': rabbitNewL1, 'old L1': rabbitOldL1, 'ancient': rabbitAncient}},
  {pts: dogPts, arrows: {'new SINE': dogSine, 'new L1': dogNewL1, 'old L1': dogOldL1, 'ancient': dogAncient}},
  {pts: horsePts, arrows: {'new SINE': horseSine, 'new L1': horseNewL1, 'old L1': horseOldL1, 'ancient': horseAncient}},
  {pts: pigPts, arrows: {'new SINE': pigSine, 'new L1': pigNewL1, 'old L1': pigOldL1, 'ancient': pigAncient}}
];

function toPairs(flat) { const out = []; for (let i = 0; i + 1 < flat.length; i += 2) out.push([flat[i], flat[i + 1]]); return out; }
const fmt = v => (v < 0 ? '\u2212' + Math.abs(v) : String(v));

function arrowRender(params, api) {
  const x = api.value(0), y = api.value(1);
  const p0 = api.coord([0, 0]), p1 = api.coord([x, y]);
  const ang = Math.atan2(p1[1] - p0[1], p1[0] - p0[0]);
  const L = 14, a = Math.PI / 6;
  const h1 = [p1[0] - L * Math.cos(ang - a), p1[1] - L * Math.sin(ang - a)];
  const h2 = [p1[0] - L * Math.cos(ang + a), p1[1] - L * Math.sin(ang + a)];
  const c = api.visual('color');
  const st = {stroke: c, fill: null, lineWidth: 2.5, lineCap: 'round', lineJoin: 'round'};
  return {type: 'group', children: [
    {type: 'line', shape: {x1: p0[0], y1: p0[1], x2: p1[0], y2: p1[1]}, style: st},
    {type: 'polyline', shape: {points: [h1, p1, h2]}, style: st}
  ]};
}

const grids = [], xAxes = [], yAxes = [], series = [], graphics = [];
panels.forEach((p, i) => {
  const col = i % 2, row = Math.floor(i / 2);
  const left = COL_LEFT[col], top = ROW_TOP[row];
  grids.push({left: left, top: top, width: GW, height: GH, show: true, borderColor: '#000', borderWidth: 1, backgroundColor: 'transparent', containLabel: false});
  const tick = {show: true, customValues: tickValues, length: 8, lineStyle: {color: '#222', width: 1}};
  const lab = {customValues: tickValues, formatter: fmt, fontSize: 13, color: '#000', fontFamily: FONT};
  xAxes.push({type: 'value', min: AX_MIN, max: AX_MAX, gridIndex: i, position: 'bottom',
    splitLine: {show: false}, axisLine: {show: false, onZero: false}, axisTick: tick,
    axisLabel: Object.assign({}, lab, {margin: 22})});
  yAxes.push({type: 'value', min: AX_MIN, max: AX_MAX, gridIndex: i, position: 'left',
    splitLine: {show: false}, axisLine: {show: false, onZero: false}, axisTick: tick,
    axisLabel: Object.assign({}, lab, {rotate: 90, margin: 19})});
  series.push({type: 'scatter', xAxisIndex: i, yAxisIndex: i, data: toPairs(p.pts), symbol: 'rect', symbolSize: 2,
    itemStyle: {color: '#555'}, silent: true, z: 1});
  drawOrder.forEach(cat => {
    series.push({type: 'custom', name: cat, coordinateSystem: 'cartesian2d', xAxisIndex: i, yAxisIndex: i,
      data: p.arrows[cat], renderItem: arrowRender, itemStyle: {color: colors[cat]}, color: colors[cat], z: 2, silent: true});
  });
  graphics.push({type: 'text', x: left + GW - 10.5, y: top + GH - 12.5,
    style: {text: panelNames[i], font: '21.5px ' + FONT, fill: '#000', align: 'right', verticalAlign: 'bottom'}});
});

graphics.push({type: 'rect', shape: {x: 60.7, y: 8.3, width: 4.6, height: 995}, style: {fill: '#000'}});
graphics.push({type: 'rect', shape: {x: 60.7, y: 999.3, width: 663.3, height: 4}, style: {fill: '#000'}});
graphics.push({type: 'text', x: 407, y: 1031, style: {text: xAxisTitle, font: '33px ' + FONT, fill: '#000', align: 'center', verticalAlign: 'middle'}});
graphics.push({type: 'text', x: 30, y: 493, rotation: Math.PI / 2, style: {text: yAxisTitle, font: '34.5px ' + FONT, fill: '#000', align: 'center', verticalAlign: 'middle'}});

const chart = echarts.init(document.getElementById('c'), null, {renderer: 'canvas'});
chart.setOption({
  animation: false,
  backgroundColor: '#fff',
  grid: grids, xAxis: xAxes, yAxis: yAxes, series: series,
  legend: {
    orient: 'vertical', left: 119.3, top: 228, padding: 0, itemWidth: 8, itemHeight: 8, itemGap: 2.5,
    icon: 'rect',
    data: categories.map(n => ({name: n, itemStyle: {color: colors[n], borderColor: '#000', borderWidth: 1}})),
    textStyle: {fontSize: 12.5, color: '#000', fontFamily: FONT, padding: [0, 0, 0, 7.5]}
  },
  graphic: graphics
});
</script></body></html>
